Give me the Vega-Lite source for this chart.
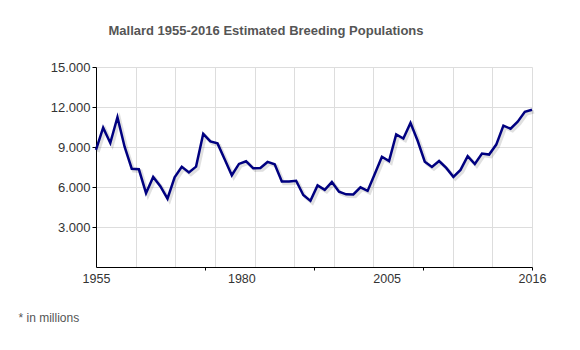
{
  "$schema": "https://vega.github.io/schema/vega-lite/v6.json",
  "width": 436,
  "height": 200,
  "autosize": {"type": "none"},
  "padding": {"left": 96, "top": 67, "right": 48, "bottom": 83},
  "background": "white",
  "title": {
    "text": "Mallard 1955-2016 Estimated Breeding Populations",
    "font": "Liberation Sans",
    "fontSize": 13,
    "fontWeight": "bold",
    "color": "#555555",
    "anchor": "middle",
    "dx": -48,
    "baseline": "alphabetic",
    "offset": 13
  },
  "config": {
    "view": {"stroke": null},
    "axis": {"labelFont": "Liberation Sans", "titleFont": "Liberation Sans"}
  },
  "data": {
    "values": [
      {"year": 1955, "pop": 8.78}, {"year": 1956, "pop": 10.45}, {"year": 1957, "pop": 9.30},
      {"year": 1958, "pop": 11.23}, {"year": 1959, "pop": 9.02}, {"year": 1960, "pop": 7.37},
      {"year": 1961, "pop": 7.33}, {"year": 1962, "pop": 5.54}, {"year": 1963, "pop": 6.75},
      {"year": 1964, "pop": 6.06}, {"year": 1965, "pop": 5.13}, {"year": 1966, "pop": 6.73},
      {"year": 1967, "pop": 7.51}, {"year": 1968, "pop": 7.09}, {"year": 1969, "pop": 7.53},
      {"year": 1970, "pop": 9.99}, {"year": 1971, "pop": 9.42}, {"year": 1972, "pop": 9.27},
      {"year": 1973, "pop": 8.08}, {"year": 1974, "pop": 6.88}, {"year": 1975, "pop": 7.73},
      {"year": 1976, "pop": 7.93}, {"year": 1977, "pop": 7.40}, {"year": 1978, "pop": 7.43},
      {"year": 1979, "pop": 7.88}, {"year": 1980, "pop": 7.71}, {"year": 1981, "pop": 6.41},
      {"year": 1982, "pop": 6.41}, {"year": 1983, "pop": 6.47}, {"year": 1984, "pop": 5.40},
      {"year": 1985, "pop": 4.96}, {"year": 1986, "pop": 6.12}, {"year": 1987, "pop": 5.79},
      {"year": 1988, "pop": 6.37}, {"year": 1989, "pop": 5.65}, {"year": 1990, "pop": 5.45},
      {"year": 1991, "pop": 5.44}, {"year": 1992, "pop": 5.98}, {"year": 1993, "pop": 5.71},
      {"year": 1994, "pop": 6.98}, {"year": 1995, "pop": 8.27}, {"year": 1996, "pop": 7.94},
      {"year": 1997, "pop": 9.94}, {"year": 1998, "pop": 9.64}, {"year": 1999, "pop": 10.81},
      {"year": 2000, "pop": 9.47}, {"year": 2001, "pop": 7.90}, {"year": 2002, "pop": 7.50},
      {"year": 2003, "pop": 7.95}, {"year": 2004, "pop": 7.43}, {"year": 2005, "pop": 6.76},
      {"year": 2006, "pop": 7.28}, {"year": 2007, "pop": 8.31}, {"year": 2008, "pop": 7.72},
      {"year": 2009, "pop": 8.51}, {"year": 2010, "pop": 8.43}, {"year": 2011, "pop": 9.18},
      {"year": 2012, "pop": 10.60}, {"year": 2013, "pop": 10.37}, {"year": 2014, "pop": 10.90},
      {"year": 2015, "pop": 11.64}, {"year": 2016, "pop": 11.79}
    ]
  },
  "encoding": {
    "y": {
      "field": "pop",
      "type": "quantitative",
      "scale": {"domain": [0, 15], "nice": false, "zero": true},
      "axis": {
        "title": null,
        "values": [3, 6, 9, 12, 15],
        "format": ".3f",
        "grid": true,
        "gridColor": "#dddddd",
        "gridWidth": 1,
        "domainColor": "#000000",
        "domainWidth": 1,
        "tickColor": "#000000",
        "tickSize": 4,
        "labelPadding": 2,
        "labelFontSize": 13,
        "labelColor": "#333333"
      }
    }
  },
  "layer": [
    {
      "mark": {"type": "line", "color": "#000000", "opacity": 0.12, "strokeWidth": 3.5, "xOffset": 2, "yOffset": 2},
      "encoding": {
        "x": {
          "field": "year",
          "type": "quantitative",
          "scale": {"domain": [1955, 2016], "nice": false, "zero": false},
          "axis": {
            "orient": "bottom",
            "title": null,
            "values": [1960.545, 1966.091, 1971.636, 1977.182, 1982.727, 1988.273, 1993.818, 1999.364, 2004.909, 2010.455, 2016],
            "grid": true,
            "gridColor": "#dddddd",
            "domain": false,
            "ticks": false,
            "labels": false
          }
        }
      }
    },
    {
      "mark": {"type": "line", "color": "#000080", "strokeWidth": 2.5},
      "encoding": {
        "x": {
          "field": "year",
          "type": "quantitative",
          "axis": {
            "orient": "bottom",
            "title": "* in millions",
            "titleFontSize": 12,
            "titleFontWeight": "normal",
            "titleColor": "#555555",
            "titleAnchor": "start",
            "titleAlign": "left",
            "titleBaseline": "alphabetic",
            "titleX": -78,
            "titleY": 54,
            "values": [1970.25, 1985.5, 2000.75, 2016],
            "grid": false,
            "domainColor": "#000000",
            "tickColor": "#000000",
            "tickSize": 3,
            "labels": false
          }
        }
      }
    },
    {
      "mark": {"type": "line", "opacity": 0},
      "encoding": {
        "x": {
          "field": "year",
          "type": "quantitative",
          "axis": {
            "orient": "bottom",
            "title": null,
            "values": [1955, 1975.333, 1995.667, 2016],
            "labelExpr": "datum.value < 1960 ? '1955' : datum.value < 1985 ? '1980' : datum.value < 2010 ? '2005' : '2016'",
            "grid": false,
            "domain": false,
            "ticks": false,
            "labelPadding": 5,
            "labelFontSize": 12.5,
            "labelColor": "#333333",
            "labelFlush": false,
            "labelOverlap": false
          }
        }
      }
    }
  ],
  "resolve": {"axis": {"x": "independent"}}
}
